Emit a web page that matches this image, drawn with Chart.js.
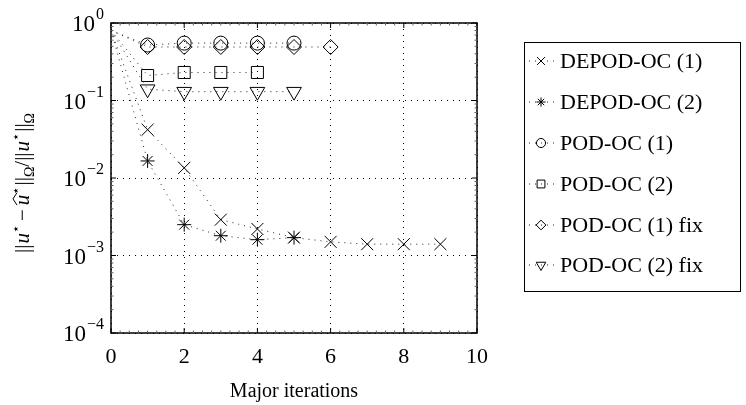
<!DOCTYPE html>
<html>
<head>
<meta charset="utf-8">
<script src="https://cdn.jsdelivr.net/npm/chart.js@4.4.0/dist/chart.umd.min.js"></script>
<style>
    html, body { margin: 0; padding: 0; background: #fff; }
</style>
</head>
<body>
<canvas id="errChart" width="746" height="405"></canvas>
<script>
// Relative error per major iteration (log scale)
const iterations = [0, 1, 2, 3, 4, 5, 6, 7, 8, 9];
const depod1 = [0.8, 0.042, 0.0135, 0.0029, 0.0022, 0.0017, 0.0015, 0.0014, 0.0014, 0.0014];
const depod2 = [0.8, 0.0166, 0.0025, 0.0018, 0.0016, 0.0017];
const pod1 = [0.8, 0.52, 0.55, 0.55, 0.55, 0.55];
const pod2 = [0.8, 0.21, 0.23, 0.23, 0.23];
const pod1fix = [0.8, 0.49, 0.49, 0.49, 0.49, 0.49, 0.49];
const pod2fix = [0.8, 0.14, 0.13, 0.13, 0.13, 0.13];

const seriesLabels = ['DEPOD-OC (1)', 'DEPOD-OC (2)', 'POD-OC (1)', 'POD-OC (2)', 'POD-OC (1) fix', 'POD-OC (2) fix'];
const xTicks = [0, 2, 4, 6, 8, 10];
const yTicks = [1e-4, 1e-3, 1e-2, 1e-1, 1];
const yTickExp = ['\u22124', '\u22123', '\u22122', '\u22121', '0'];

const SERIF = '"Liberation Serif", "DejaVu Serif", serif';

// marker look for each series
const markers = [
    { style: 'crossRot', radius: 8.5, rotation: 0 },
    { style: 'star', radius: 7, rotation: 0 },
    { style: 'circle', radius: 7, rotation: 0 },
    { style: 'rect', radius: 8.5, rotation: 0 },
    { style: 'rectRot', radius: 7.5, rotation: 0 },
    { style: 'triangle', radius: 8.5, rotation: 180 }
];

function toPoints(values) {
    return values.map((v, i) => ({ x: iterations[i], y: v }));
}

const allSeries = [depod1, depod2, pod1, pod2, pod1fix, pod2fix];

const datasets = allSeries.map((values, i) => ({
    label: seriesLabels[i],
    data: toPoints(values),
    borderColor: '#222',
    backgroundColor: 'rgba(0,0,0,0)',
    borderWidth: 1,
    borderDash: [1, 5],
    pointStyle: markers[i].style,
    pointRotation: markers[i].rotation,
    pointRadius: ctx => ctx.dataIndex === 0 ? 0 : markers[i].radius,
    pointBorderWidth: 1,
    pointBorderColor: '#000',
    pointBackgroundColor: 'rgba(0,0,0,0)',
    tension: 0
}));

// draw text made of pieces (italic, super/subscripts), centred at 0,0
function drawPieces(ctx, pieces) {
    let total = 0;
    pieces.forEach(p => {
        ctx.font = p.font;
        p.w = ctx.measureText(p.t).width + (p.gap || 0);
        total += p.w;
    });
    let x = -total / 2;
    ctx.textAlign = 'left';
    ctx.textBaseline = 'alphabetic';
    pieces.forEach(p => {
        ctx.font = p.font;
        ctx.fillText(p.t, x, p.dy || 0);
        if (p.hat) {
            ctx.beginPath();
            ctx.moveTo(x, -12);
            ctx.lineTo(x + p.w / 2 + 1, -16);
            ctx.lineTo(x + p.w + 2, -12);
            ctx.lineWidth = 1;
            ctx.stroke();
        }
        x += p.w;
    });
}

const frameAndLabels = {
    id: 'frameAndLabels',
    afterDraw(chart) {
        const ctx = chart.ctx;
        const area = chart.chartArea;
        const xs = chart.scales.x;
        const ys = chart.scales.y;
        ctx.save();
        ctx.strokeStyle = '#000';
        ctx.fillStyle = '#000';

        // axes box
        ctx.lineWidth = 1.5;
        ctx.strokeRect(area.left, area.top, area.right - area.left, area.bottom - area.top);

        // ticks
        ctx.lineWidth = 1;
        ctx.beginPath();
        xTicks.forEach(v => {
            const px = xs.getPixelForValue(v);
            ctx.moveTo(px, area.bottom); ctx.lineTo(px, area.bottom - 5);
            ctx.moveTo(px, area.top); ctx.lineTo(px, area.top + 5);
        });
        yTicks.forEach(v => {
            const py = ys.getPixelForValue(v);
            ctx.moveTo(area.left, py); ctx.lineTo(area.left + 5, py);
            ctx.moveTo(area.right, py); ctx.lineTo(area.right - 5, py);
        });
        ctx.stroke();

        // minor ticks
        ctx.strokeStyle = '#666';
        ctx.beginPath();
        for (let v = 0.25; v < 10; v += 0.25) {
            if (Math.abs(v / 2 - Math.round(v / 2)) < 1e-6) continue;
            const px = xs.getPixelForValue(v);
            ctx.moveTo(px, area.bottom); ctx.lineTo(px, area.bottom - 2.5);
            ctx.moveTo(px, area.top); ctx.lineTo(px, area.top + 2.5);
        }
        for (let d = -4; d < 0; d++) {
            for (let m = 2; m < 10; m++) {
                const py = ys.getPixelForValue(m * Math.pow(10, d));
                ctx.moveTo(area.left, py); ctx.lineTo(area.left + 2.5, py);
                ctx.moveTo(area.right, py); ctx.lineTo(area.right - 2.5, py);
            }
        }
        ctx.stroke();
        ctx.strokeStyle = '#000';

        // x tick labels
        ctx.font = '22px ' + SERIF;
        ctx.textAlign = 'center';
        ctx.textBaseline = 'middle';
        xTicks.forEach(v => {
            ctx.fillText(String(v), xs.getPixelForValue(v), area.bottom + 24);
        });

        // y tick labels, 10 with exponent
        yTicks.forEach((v, i) => {
            const py = ys.getPixelForValue(v);
            ctx.font = '16px ' + SERIF;
            const ew = ctx.measureText(yTickExp[i]).width;
            ctx.textAlign = 'left';
            ctx.textBaseline = 'alphabetic';
            const right = area.left - 7;
            ctx.fillText(yTickExp[i], right - ew, py - 4);
            ctx.font = '23px ' + SERIF;
            ctx.textAlign = 'right';
            ctx.fillText('10', right - ew - 1, py + 8);
        });

        // x axis title
        ctx.font = '20px ' + SERIF;
        ctx.textAlign = 'center';
        ctx.textBaseline = 'middle';
        ctx.fillText('Major iterations', (area.left + area.right) / 2, 392);

        // y axis title
        const base = '21px ' + SERIF;
        const ital = 'italic 21px ' + SERIF;
        const sup = '13px "DejaVu Sans", sans-serif';
        const sub = '14px ' + SERIF;
        ctx.save();
        ctx.translate(29, 183);
        ctx.rotate(-Math.PI / 2);
        drawPieces(ctx, [
            { t: '||', font: base, gap: 1 },
            { t: 'u', font: ital },
            { t: '\u22C6', font: sup, dy: -9, gap: 4 },
            { t: '\u2212', font: base, gap: 4 },
            { t: 'u', font: ital, hat: true },
            { t: '\u22C6', font: sup, dy: -9, gap: 1 },
            { t: '||', font: base },
            { t: '\u03A9', font: sub, dy: 5 },
            { t: '/', font: base },
            { t: '||', font: base, gap: 1 },
            { t: 'u', font: ital },
            { t: '\u22C6', font: sup, dy: -9, gap: 1 },
            { t: '||', font: base },
            { t: '\u03A9', font: sub, dy: 5 }
        ]);
        ctx.restore();

        // legend box
        const lx = 524, ly = 42, lw = 216, lh = 249;
        ctx.lineWidth = 1;
        ctx.strokeRect(lx + 0.5, ly + 0.5, lw, lh);
        const rowY = [61, 102, 143, 184, 225, 265];
        chart.data.datasets.forEach((ds, i) => {
            const y = rowY[i];
            // dotted sample line
            ctx.save();
            ctx.setLineDash([1, 5]);
            ctx.strokeStyle = '#222';
            ctx.lineWidth = 1;
            ctx.beginPath();
            ctx.moveTo(529, y); ctx.lineTo(554, y);
            ctx.stroke();
            ctx.restore();
            ctx.fillStyle = 'rgba(0,0,0,0)';
            ctx.lineWidth = 1;
            Chart.helpers.drawPoint(ctx, {
                pointStyle: markers[i].style,
                rotation: markers[i].rotation,
                radius: markers[i].radius * 0.65,
                borderWidth: 1
            }, 541, y);
            ctx.fillStyle = '#000';
            ctx.font = '22px ' + SERIF;
            ctx.textAlign = 'left';
            ctx.textBaseline = 'middle';
            ctx.fillText(ds.label, 560, y + 1);
        });
        ctx.restore();
    }
};

const errCtx = document.getElementById('errChart').getContext('2d');
const errChart = new Chart(errCtx, {
    type: 'line',
    data: { datasets: datasets },
    options: {
        responsive: false,
        animation: false,
        devicePixelRatio: 1,
        layout: { padding: { left: 111, right: 269, top: 23, bottom: 72 } },
        plugins: {
            legend: { display: false },
            tooltip: { enabled: false }
        },
        scales: {
            x: {
                type: 'linear',
                min: 0,
                max: 10,
                ticks: { display: false, stepSize: 2 },
                afterBuildTicks: scale => { scale.ticks = xTicks.map(v => ({ value: v })); },
                grid: { color: '#000', lineWidth: 1, drawTicks: false },
                border: { display: false, dash: [1, 5] }
            },
            y: {
                type: 'logarithmic',
                min: 1e-4,
                max: 1,
                ticks: { display: false },
                afterBuildTicks: scale => { scale.ticks = yTicks.map(v => ({ value: v })); },
                grid: { color: '#000', lineWidth: 1, drawTicks: false },
                border: { display: false, dash: [1, 5] }
            }
        }
    },
    plugins: [frameAndLabels]
});
</script>
</body>
</html>
